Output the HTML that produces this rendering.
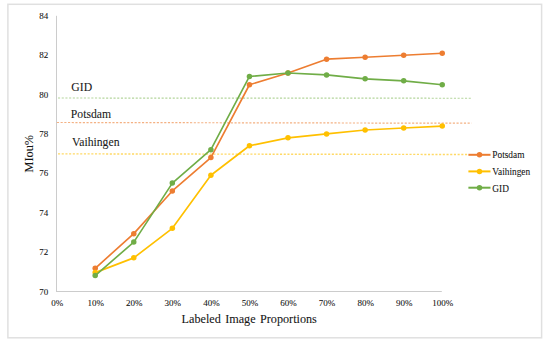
<!DOCTYPE html>
<html><head><meta charset="utf-8"><style>
html,body{margin:0;padding:0;background:#fff;}
body{width:550px;height:344px;overflow:hidden;}
svg{display:block;}
text{font-family:"Liberation Serif",serif;fill:#151515;stroke:#151515;stroke-width:0.08px;}
.t{font-size:9px;}
.g{font-size:9.33px;}
.l{font-size:11.7px;fill:#1a1a1a;}
.a{font-size:12px;}
</style></head><body>
<svg width="550" height="344" viewBox="0 0 550 344">
<rect x="7.9" y="4.3" width="533.7" height="333.5" fill="#fff" stroke="#e0e0e0" stroke-width="1.5"/>
<line x1="56.5" y1="15.8" x2="56.5" y2="291.5" stroke="#cccccc" stroke-width="1"/>
<line x1="56" y1="291.5" x2="441.8" y2="291.5" stroke="#cccccc" stroke-width="1"/>
<line x1="58.0" y1="98.0" x2="471.2" y2="98.25" stroke="#B4D59C" stroke-width="1.2" stroke-dasharray="2.1 1.6"/>
<line x1="56.9" y1="122.5" x2="471.5" y2="123.2" stroke="#F4B183" stroke-width="1.2" stroke-dasharray="2.15 1.55"/>
<line x1="58.0" y1="153.85" x2="468" y2="154.5" stroke="#FFD966" stroke-width="1.4" stroke-dasharray="2.1 1.6"/>
<text x="48.3" y="294.50" text-anchor="end" class="t">70</text>
<text x="48.3" y="255.16" text-anchor="end" class="t">72</text>
<text x="48.3" y="215.81" text-anchor="end" class="t">74</text>
<text x="48.3" y="176.47" text-anchor="end" class="t">76</text>
<text x="48.3" y="137.13" text-anchor="end" class="t">78</text>
<text x="48.3" y="97.79" text-anchor="end" class="t">80</text>
<text x="48.3" y="58.44" text-anchor="end" class="t">82</text>
<text x="48.3" y="19.10" text-anchor="end" class="t">84</text>
<text x="57.15" y="306" text-anchor="middle" class="t">0%</text>
<text x="95.71" y="306" text-anchor="middle" class="t">10%</text>
<text x="134.27" y="306" text-anchor="middle" class="t">20%</text>
<text x="172.83" y="306" text-anchor="middle" class="t">30%</text>
<text x="211.39" y="306" text-anchor="middle" class="t">40%</text>
<text x="249.95" y="306" text-anchor="middle" class="t">50%</text>
<text x="288.51" y="306" text-anchor="middle" class="t">60%</text>
<text x="327.07" y="306" text-anchor="middle" class="t">70%</text>
<text x="365.63" y="306" text-anchor="middle" class="t">80%</text>
<text x="404.19" y="306" text-anchor="middle" class="t">90%</text>
<text x="442.75" y="306" text-anchor="middle" class="t">100%</text>
<polyline points="95.21,268.28 133.77,233.66 172.33,190.98 210.89,157.53 249.45,84.75 288.01,72.95 326.57,59.18 365.13,57.21 403.69,55.24 442.25,53.28" fill="none" stroke="#ED7D31" stroke-width="1.65" stroke-linejoin="round" stroke-linecap="round"/>
<circle cx="95.21" cy="268.28" r="2.75" fill="#ED7D31"/>
<circle cx="133.77" cy="233.66" r="2.75" fill="#ED7D31"/>
<circle cx="172.33" cy="190.98" r="2.75" fill="#ED7D31"/>
<circle cx="210.89" cy="157.53" r="2.75" fill="#ED7D31"/>
<circle cx="249.45" cy="84.75" r="2.75" fill="#ED7D31"/>
<circle cx="288.01" cy="72.95" r="2.75" fill="#ED7D31"/>
<circle cx="326.57" cy="59.18" r="2.75" fill="#ED7D31"/>
<circle cx="365.13" cy="57.21" r="2.75" fill="#ED7D31"/>
<circle cx="403.69" cy="55.24" r="2.75" fill="#ED7D31"/>
<circle cx="442.25" cy="53.28" r="2.75" fill="#ED7D31"/>

<polyline points="95.21,272.61 133.77,257.86 172.33,228.35 210.89,175.24 249.45,145.73 288.01,137.86 326.57,133.93 365.13,129.99 403.69,128.03 442.25,126.06" fill="none" stroke="#FFC000" stroke-width="1.65" stroke-linejoin="round" stroke-linecap="round"/>
<circle cx="95.21" cy="272.61" r="2.75" fill="#FFC000"/>
<circle cx="133.77" cy="257.86" r="2.75" fill="#FFC000"/>
<circle cx="172.33" cy="228.35" r="2.75" fill="#FFC000"/>
<circle cx="210.89" cy="175.24" r="2.75" fill="#FFC000"/>
<circle cx="249.45" cy="145.73" r="2.75" fill="#FFC000"/>
<circle cx="288.01" cy="137.86" r="2.75" fill="#FFC000"/>
<circle cx="326.57" cy="133.93" r="2.75" fill="#FFC000"/>
<circle cx="365.13" cy="129.99" r="2.75" fill="#FFC000"/>
<circle cx="403.69" cy="128.03" r="2.75" fill="#FFC000"/>
<circle cx="442.25" cy="126.06" r="2.75" fill="#FFC000"/>

<polyline points="95.21,275.56 133.77,242.12 172.33,183.11 210.89,149.67 249.45,76.49 288.01,72.95 326.57,74.91 365.13,78.85 403.69,80.82 442.25,84.75" fill="none" stroke="#70AD47" stroke-width="1.65" stroke-linejoin="round" stroke-linecap="round"/>
<circle cx="95.21" cy="275.56" r="2.75" fill="#70AD47"/>
<circle cx="133.77" cy="242.12" r="2.75" fill="#70AD47"/>
<circle cx="172.33" cy="183.11" r="2.75" fill="#70AD47"/>
<circle cx="210.89" cy="149.67" r="2.75" fill="#70AD47"/>
<circle cx="249.45" cy="76.49" r="2.75" fill="#70AD47"/>
<circle cx="288.01" cy="72.95" r="2.75" fill="#70AD47"/>
<circle cx="326.57" cy="74.91" r="2.75" fill="#70AD47"/>
<circle cx="365.13" cy="78.85" r="2.75" fill="#70AD47"/>
<circle cx="403.69" cy="80.82" r="2.75" fill="#70AD47"/>
<circle cx="442.25" cy="84.75" r="2.75" fill="#70AD47"/>

<text x="71.3" y="90.8" class="l">GID</text>
<text x="70.8" y="117.6" class="l">Potsdam</text>
<text x="72.1" y="145.5" class="l">Vaihingen</text>
<text transform="translate(249.2,322.7) scale(1,1.08)" text-anchor="middle" class="a" word-spacing="1.3" style="font-size:12.2px">Labeled Image Proportions</text>
<text transform="translate(33.0,153.7) rotate(-90)" text-anchor="middle" class="a" style="font-size:12.3px">MIou%</text>
<line x1="468.4" y1="154.8" x2="490.5" y2="154.8" stroke="#ED7D31" stroke-width="2"/>
<circle cx="479.5" cy="154.8" r="2.75" fill="#ED7D31"/>
<text x="492.3" y="158.4" class="g">Potsdam</text>
<line x1="468.4" y1="171.4" x2="490.5" y2="171.4" stroke="#FFC000" stroke-width="2"/>
<circle cx="479.5" cy="171.4" r="2.75" fill="#FFC000"/>
<text x="492.3" y="174.7" class="g">Vaihingen</text>
<line x1="468.4" y1="187.7" x2="490.5" y2="187.7" stroke="#70AD47" stroke-width="2"/>
<circle cx="479.5" cy="187.7" r="2.75" fill="#70AD47"/>
<text x="492.3" y="191.5" class="g">GID</text>
</svg>
</body></html>
